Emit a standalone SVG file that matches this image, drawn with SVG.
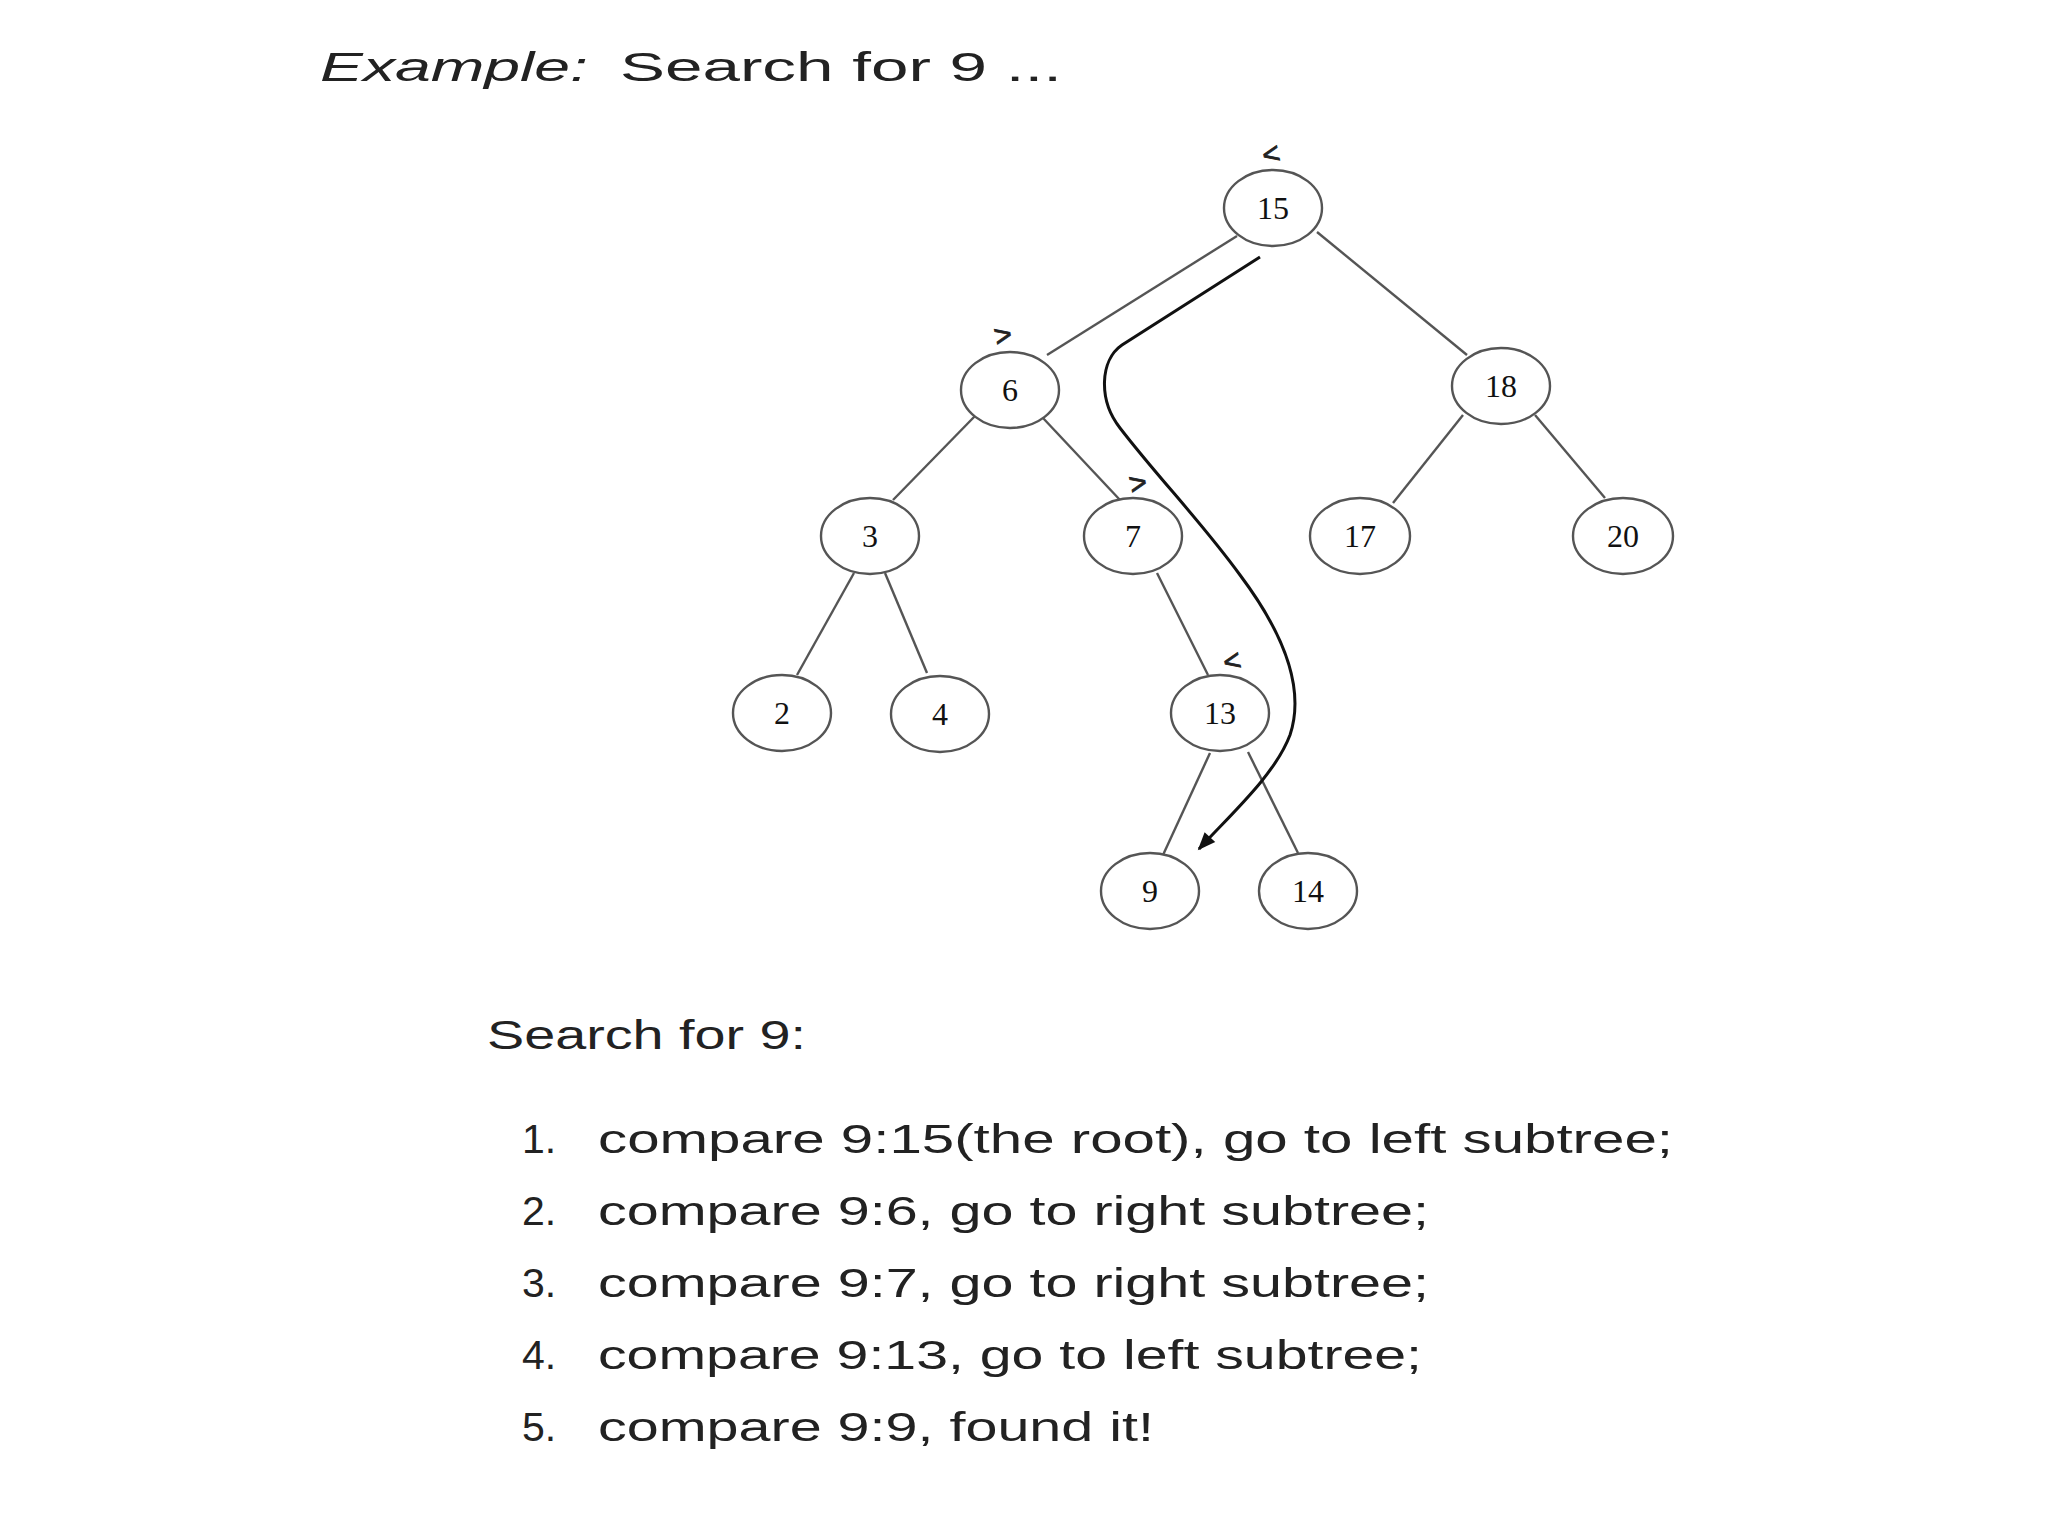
<svg xmlns="http://www.w3.org/2000/svg" width="2048" height="1536" viewBox="0 0 2048 1536">
<defs>
<style>
.node ellipse{fill:#fff;stroke:#555;stroke-width:2.4}
.node text{font-family:"Liberation Serif","Times New Roman",serif;font-size:32px;fill:#111;text-anchor:middle}
.edge{stroke:#555;stroke-width:2.4;fill:none}
.sym{font-family:"Liberation Sans",sans-serif;font-size:30px;fill:#222;text-anchor:middle;stroke:#222;stroke-width:0.8}
.txt{font-family:"Liberation Sans",Arial,sans-serif;font-size:41px;fill:#222}
</style>
<marker id="ah" viewBox="0 0 10 10" refX="9" refY="5" markerWidth="7" markerHeight="6" orient="auto" markerUnits="strokeWidth">
<path d="M0,1 L10,5 L0,9 Z" fill="#111"/>
</marker>
</defs>
<rect width="2048" height="1536" fill="#fff"/>
<text class="txt" x="320" y="81"><tspan font-style="italic" textLength="268" lengthAdjust="spacingAndGlyphs">Example:</tspan><tspan x="620" textLength="442" lengthAdjust="spacingAndGlyphs">Search for 9 ...</tspan></text>
<g id="connectors">
<line class="edge" x1="1237" y1="236" x2="1047" y2="355"/>
<line class="edge" x1="1317" y1="232" x2="1467" y2="355"/>
<line class="edge" x1="975" y1="416" x2="893" y2="500"/>
<line class="edge" x1="1043" y1="418" x2="1120" y2="500"/>
<line class="edge" x1="1463" y1="415" x2="1393" y2="503"/>
<line class="edge" x1="1535" y1="415" x2="1605" y2="498"/>
<line class="edge" x1="854" y1="573" x2="797" y2="675"/>
<line class="edge" x1="885" y1="573" x2="927" y2="673"/>
<line class="edge" x1="1157" y1="573" x2="1208" y2="675"/>
<line class="edge" x1="1210" y1="753" x2="1163" y2="855"/>
<line class="edge" x1="1248" y1="752" x2="1298" y2="853"/>
<path d="M1260,257 L1122,345 C1100,360 1098,400 1120,428 C1160,480 1200,520 1240,575 C1285,635 1305,690 1290,735 C1275,775 1230,815 1199,849" fill="none" stroke="#111" stroke-width="3" marker-end="url(#ah)"/>
</g>
<g id="n15" class="node"><ellipse cx="1273" cy="208" rx="49" ry="38"/><text x="1273" y="219">15</text></g>
<g id="n6" class="node"><ellipse cx="1010" cy="390" rx="49" ry="38"/><text x="1010" y="401">6</text></g>
<g id="n18" class="node"><ellipse cx="1501" cy="386" rx="49" ry="38"/><text x="1501" y="397">18</text></g>
<g id="n3" class="node"><ellipse cx="870" cy="536" rx="49" ry="38"/><text x="870" y="547">3</text></g>
<g id="n7" class="node"><ellipse cx="1133" cy="536" rx="49" ry="38"/><text x="1133" y="547">7</text></g>
<g id="n17" class="node"><ellipse cx="1360" cy="536" rx="50" ry="38"/><text x="1360" y="547">17</text></g>
<g id="n20" class="node"><ellipse cx="1623" cy="536" rx="50" ry="38"/><text x="1623" y="547">20</text></g>
<g id="n2" class="node"><ellipse cx="782" cy="713" rx="49" ry="38"/><text x="782" y="724">2</text></g>
<g id="n4" class="node"><ellipse cx="940" cy="714" rx="49" ry="38"/><text x="940" y="725">4</text></g>
<g id="n13" class="node"><ellipse cx="1220" cy="713" rx="49" ry="38"/><text x="1220" y="724">13</text></g>
<g id="n9" class="node"><ellipse cx="1150" cy="891" rx="49" ry="38"/><text x="1150" y="902">9</text></g>
<g id="n14" class="node"><ellipse cx="1308" cy="891" rx="49" ry="38"/><text x="1308" y="902">14</text></g>
<g id="symbols">
<text class="sym" transform="translate(1273,164) rotate(-12)">&lt;</text>
<text class="sym" transform="translate(1005,345) rotate(-12)">&gt;</text>
<text class="sym" transform="translate(1140,493) rotate(-12)">&gt;</text>
<text class="sym" transform="translate(1234,671) rotate(-12)">&lt;</text>
</g>
<text class="txt" x="487" y="1049" textLength="319" lengthAdjust="spacingAndGlyphs">Search for 9:</text>
<g class="txt">
<text x="522" y="1153">1.</text><text x="598" y="1153" textLength="1075" lengthAdjust="spacingAndGlyphs">compare 9:15(the root), go to left subtree;</text>
<text x="522" y="1225">2.</text><text x="598" y="1225" textLength="831" lengthAdjust="spacingAndGlyphs">compare 9:6, go to right subtree;</text>
<text x="522" y="1297">3.</text><text x="598" y="1297" textLength="831" lengthAdjust="spacingAndGlyphs">compare 9:7, go to right subtree;</text>
<text x="522" y="1369">4.</text><text x="598" y="1369" textLength="824" lengthAdjust="spacingAndGlyphs">compare 9:13, go to left subtree;</text>
<text x="522" y="1441">5.</text><text x="598" y="1441" textLength="556" lengthAdjust="spacingAndGlyphs">compare 9:9, found it!</text>
</g>
</svg>
